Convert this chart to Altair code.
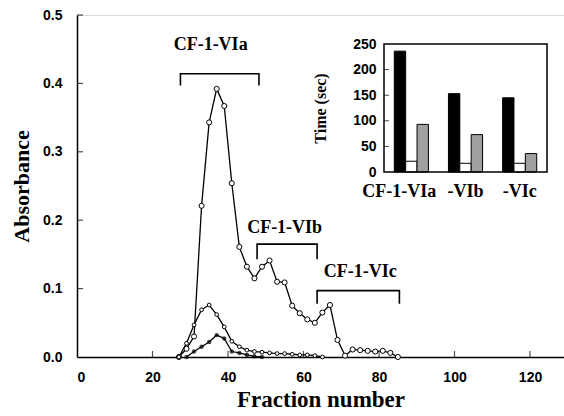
import altair as alt
import pandas as pd

# ---- main chromatogram data ----
frac_main = [27, 29, 31, 33, 35, 37, 39, 41, 43, 45, 47, 49, 51, 53, 55, 57, 59, 61, 63, 65,
             67, 69, 71, 73, 75, 77, 79, 81, 83, 85]
abs_main = [0.0, 0.012, 0.03, 0.221, 0.343, 0.392, 0.367, 0.254, 0.161, 0.132, 0.115, 0.132,
            0.141, 0.11, 0.109, 0.075, 0.064, 0.055, 0.05, 0.065, 0.076, 0.025, 0.002, 0.011,
            0.01, 0.009, 0.008, 0.009, 0.006, 0.0]

frac_small = [27, 29, 31, 33, 35, 37, 39, 41, 43, 45, 47, 49, 51, 53, 55, 57, 59, 61, 63, 65]
abs_small = [0.0, 0.02, 0.047, 0.069, 0.076, 0.062, 0.044, 0.023, 0.015, 0.01, 0.008, 0.007,
             0.006, 0.005, 0.005, 0.004, 0.003, 0.003, 0.002, 0.0]

frac_filled = [29, 31, 33, 35, 37, 39, 41, 43, 45, 47, 49]
abs_filled = [0.0, 0.008, 0.015, 0.022, 0.032, 0.027, 0.008, 0.006, 0.003, 0.001, 0.0]

# ---- bracket annotations ----
br_names = ["CF-1-VIa", "CF-1-VIb", "CF-1-VIc"]
br_start = [27.4, 47.7, 63.6]
br_end = [48.2, 63.6, 85.4]
br_top = [0.414, 0.165, 0.097]
br_foot = [0.397, 0.143, 0.078]
lab_x = [35.4, 55.0, 75.0]
lab_y = [0.456, 0.189, 0.124]

# ---- axis ticks ----
x_ticks = [0, 20, 40, 60, 80, 100, 120]
y_ticks = [0.0, 0.1, 0.2, 0.3, 0.4, 0.5]

# ---- inset data ----
groups = ["CF-1-VIa", "-VIb", "-VIc"]
black_vals = [236, 153, 145]
white_vals = [21, 17, 17]
hatched_vals = [93, 73, 36]
inset_ticks = [0, 50, 100, 150, 200, 250]

W, H = 487, 342
SERIF = "Liberation Serif"
SANS = "Liberation Sans"

df_main = pd.DataFrame({"f": frac_main, "a": abs_main})
df_small = pd.DataFrame({"f": frac_small, "a": abs_small})
df_filled = pd.DataFrame({"f": frac_filled, "a": abs_filled})

rows = []
for i, n in enumerate(br_names):
    rows += [
        {"b": n, "o": 0, "f": br_start[i], "a": br_foot[i]},
        {"b": n, "o": 1, "f": br_start[i], "a": br_top[i]},
        {"b": n, "o": 2, "f": br_end[i], "a": br_top[i]},
        {"b": n, "o": 3, "f": br_end[i], "a": br_foot[i]},
    ]
df_br = pd.DataFrame(rows)
df_lab = pd.DataFrame({"t": br_names, "f": lab_x, "a": lab_y})

xscale = alt.Scale(domain=[0, 129], nice=False, zero=False)
yscale = alt.Scale(domain=[0, 0.5], nice=False)

xaxis = alt.Axis(values=x_ticks, title="Fraction number", grid=False, ticks=False,
                 labelFont=SANS, labelFontWeight="bold", labelFontSize=14, labelColor="black",
                 labelPadding=13, titleFont=SERIF, titleFontWeight="bold", titleFontSize=23,
                 titleColor="black", titlePadding=4, domainColor="black", domainWidth=1.5)
yaxis = alt.Axis(values=y_ticks, format=".1f", title="Absorbance", grid=False, ticks=False,
                 labelFont=SANS, labelFontWeight="bold", labelFontSize=14, labelColor="black",
                 labelPadding=15, titleFont=SERIF, titleFontWeight="bold", titleFontSize=22,
                 titleColor="black", titlePadding=9, domainColor="black", domainWidth=1.5)

X = alt.X("f:Q", scale=xscale, axis=xaxis)
Y = alt.Y("a:Q", scale=yscale, axis=yaxis)


def series(df, size, filled):
    line = alt.Chart(df).mark_line(color="black", strokeWidth=1.3).encode(x=X, y=Y)
    if filled:
        pts = alt.Chart(df).mark_point(filled=True, color="black", size=size).encode(x=X, y=Y)
    else:
        pts = alt.Chart(df).mark_point(filled=True, fill="white", stroke="black",
                                       strokeWidth=1, size=size, opacity=1).encode(x=X, y=Y)
    return line + pts


brackets = alt.Chart(df_br).mark_line(color="black", strokeWidth=1.6).encode(
    x=X, y=Y, detail="b:N", order="o:Q")
labels = alt.Chart(df_lab).mark_text(font=SERIF, fontWeight="bold", fontSize=18,
                                     color="black", baseline="middle").encode(
    x=X, y=Y, text="t:N")

xt = alt.Chart(pd.DataFrame({"f": x_ticks[1:]})).mark_tick(
    orient="vertical", size=6, thickness=1.2, color="black", yOffset=-3).encode(
    x=X, y=alt.datum(0))
yt = alt.Chart(pd.DataFrame({"a": y_ticks[1:]})).mark_tick(
    orient="horizontal", size=6, thickness=1.2, color="black", xOffset=3).encode(
    y=Y, x=alt.datum(0))

main = alt.layer(series(df_main, 26, False), series(df_small, 14, False),
                 series(df_filled, 20, True), brackets, labels, xt, yt)

# ---- inset ----
inset_rows = []
for i, g in enumerate(groups):
    inset_rows.append({"g": g, "s": "1", "v": black_vals[i]})
    inset_rows.append({"g": g, "s": "2", "v": white_vals[i]})
    inset_rows.append({"g": g, "s": "3", "v": hatched_vals[i]})
df_in = pd.DataFrame(inset_rows)

IX0, IX1, IY0, IY1 = 307, 470, 29, 157

iy_scale = alt.Scale(domain=[0, 250], range=[IY1, IY0], nice=False)
iy_axis = alt.Axis(orient="left", offset=-IX0, values=inset_ticks, grid=False,
                   ticks=False, domain=False, title="Time (sec)", titleFont=SERIF,
                   titleFontWeight="bold", titleFontSize=16, titleColor="black",
                   titlePadding=24, labelFont=SANS, labelFontWeight="bold",
                   labelFontSize=14, labelColor="black", labelPadding=8)

bars = alt.Chart(df_in).mark_bar(stroke="black", strokeWidth=1).encode(
    x=alt.X("g:N", sort=groups,
            scale=alt.Scale(domain=groups, range=[IX0, IX1], paddingInner=0.37, paddingOuter=0.19),
            axis=alt.Axis(orient="bottom", offset=IY1 - H, title=None, labelAngle=0,
                          ticks=False, domain=False, labelFont=SERIF, labelFontWeight="bold",
                          labelFontSize=18, labelColor="black", labelPadding=10,
                          labelOffset={"condition": {"test": "datum.value == 'CF-1-VIa'",
                                                     "value": -12}, "value": 0})),
    xOffset=alt.XOffset("s:N", scale=alt.Scale(paddingInner=0, paddingOuter=0)),
    y=alt.Y("v:Q", scale=iy_scale, axis=iy_axis),
    color=alt.Color("s:N", scale=alt.Scale(domain=["1", "2", "3"],
                                           range=["black", "white", "#a0a0a0"]), legend=None),
)
iticks = alt.Chart(pd.DataFrame({"v": inset_ticks[1:-1]})).mark_tick(
    orient="horizontal", size=5, thickness=1, color="black", xOffset=2.5).encode(
    y=alt.Y("v:Q", scale=iy_scale, axis=iy_axis), x=alt.value(IX0))
frame = alt.Chart(pd.DataFrame({"k": [0]})).mark_rect(
    filled=False, stroke="black", strokeWidth=1.5).encode(
    x=alt.value(IX0), x2=alt.value(IX1), y=alt.value(IY0), y2=alt.value(IY1))

inset = alt.layer(bars, iticks, frame)

chart = alt.layer(main, inset).resolve_scale(
    x="independent", y="independent", color="independent"
).properties(
    width=W, height=H,
    autosize=alt.AutoSizeParams(type="none"),
    padding={"left": 77, "top": 15, "right": 0, "bottom": 59},
).configure_view(stroke=None).configure(background="white")

chart.save("out.html", embed_options={"renderer": "svg", "actions": False})
